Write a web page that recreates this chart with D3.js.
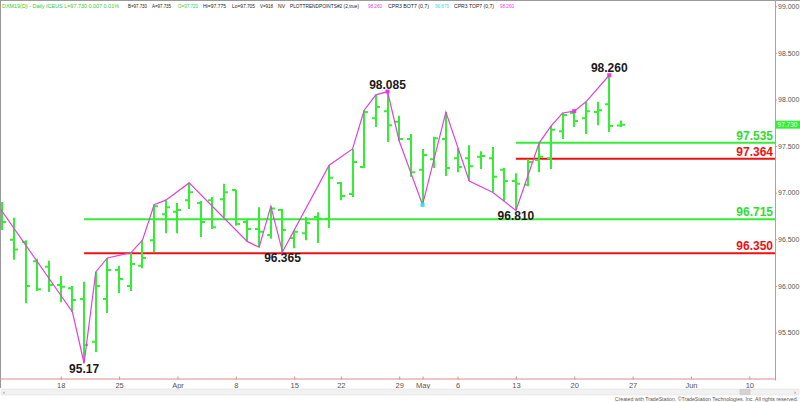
<!DOCTYPE html>
<html><head><meta charset="utf-8">
<script src="https://cdn.jsdelivr.net/npm/d3@7"></script>
<style>
html,body{margin:0;padding:0;background:#fff;overflow:hidden}
svg{display:block;font-family:"Liberation Sans",Arial,sans-serif}
</style></head><body>
<svg id="c" width="800" height="402"></svg>
<script>
// ---------- data ----------
const sessions = [
 "2019-03-11","2019-03-12","2019-03-13","2019-03-14","2019-03-15",
 "2019-03-18","2019-03-19","2019-03-20","2019-03-21","2019-03-22",
 "2019-03-25","2019-03-26","2019-03-27","2019-03-28","2019-03-29",
 "2019-04-01","2019-04-02","2019-04-03","2019-04-04","2019-04-05",
 "2019-04-08","2019-04-09","2019-04-10","2019-04-11","2019-04-12",
 "2019-04-15","2019-04-16","2019-04-17","2019-04-18",
 "2019-04-22","2019-04-23","2019-04-24","2019-04-25","2019-04-26",
 "2019-04-29","2019-04-30","2019-05-01","2019-05-02","2019-05-03",
 "2019-05-06","2019-05-07","2019-05-08","2019-05-09","2019-05-10",
 "2019-05-13","2019-05-14","2019-05-15","2019-05-16","2019-05-17",
 "2019-05-20","2019-05-21","2019-05-22","2019-05-23","2019-05-24",
 "2019-05-27","2019-05-28","2019-05-29","2019-05-30","2019-05-31",
 "2019-06-03","2019-06-04","2019-06-05","2019-06-06","2019-06-07",
 "2019-06-10","2019-06-11","2019-06-12"
];
const opens  = [96.815,96.495,96.47,96.265,96.205,96.01,95.975,95.86,95.40,95.86,
                96.17,96.00,96.215,96.49,96.77,96.795,96.92,96.89,96.92,96.93,
                97.03,96.685,96.61,96.545,96.815,96.515,96.565,96.74,96.72,97.105,
                96.985,97.275,97.80,97.875,97.76,97.575,97.245,97.36,97.575,97.37,
                97.37,97.385,97.37,97.245,97.125,97.085,97.35,97.37,97.66,97.855,
                97.80,97.865,97.95,97.72];
const highs  = [96.90,96.73,96.49,96.29,96.27,96.105,96.00,96.045,96.15,96.30,
                96.215,96.355,96.49,96.87,96.92,96.89,97.105,96.91,96.955,97.095,
                97.03,96.72,96.845,96.855,96.825,96.60,96.74,96.79,97.295,97.115,
                97.47,97.885,98.05,98.085,97.825,97.63,97.47,97.60,97.865,97.48,
                97.51,97.445,97.49,97.265,97.21,97.36,97.535,97.715,97.855,97.875,
                97.975,97.975,98.26,97.775];
const lows   = [96.60,96.28,95.815,95.945,95.935,95.825,95.72,95.17,95.29,95.71,
                95.925,95.945,96.19,96.365,96.565,96.565,96.825,96.525,96.61,96.73,
                96.645,96.475,96.415,96.505,96.365,96.405,96.49,96.46,96.62,96.92,
                96.955,97.265,97.705,97.545,97.555,97.17,96.87,97.265,97.18,97.22,
                97.125,97.255,97.005,96.91,96.81,97.07,97.22,97.255,97.575,97.705,
                97.63,97.725,97.65,97.705];
const closes = [96.685,96.39,96.00,95.965,96.01,95.99,95.85,95.365,96.00,96.17,
                96.075,96.235,96.30,96.855,96.845,96.815,97.005,96.685,96.63,97.005,
                96.665,96.61,96.58,96.83,96.60,96.58,96.675,96.72,97.16,96.965,
                97.33,97.865,97.92,97.725,97.575,97.22,97.405,97.585,97.265,97.275,
                97.285,97.395,97.17,97.125,97.095,97.33,97.385,97.675,97.835,97.77,
                97.875,97.885,97.715,97.73];

// zigzag (PLOTTRENDPOINTS) vertices: session index, price
const trendIdx   = [-1, 6, 7, 8, 9, 11, 12, 13, 14, 16, 21, 22, 23, 24, 28, 30, 31, 32, 33, 34, 36, 38, 40, 42, 44, 46, 47, 48, 49, 50, 52];
const trendPrice = [96.975,95.72,95.17,96.15,96.30,96.355,96.49,96.87,96.92,97.105,96.475,96.415,96.855,96.365,97.295,97.47,97.885,98.05,98.085,97.555,96.87,97.865,97.125,97.005,96.81,97.535,97.715,97.855,97.875,97.975,98.26];

// swing labels
const swingIdx   = [7, 24, 33, 44, 52];
const swingText  = ["95.17","96.365","98.085","96.810","98.260"];
const swingPrice = [95.17, 96.365, 98.085, 96.81, 98.26];
const swingSide  = ["low","low","high","low","high"];

// marker dots
const dotIdx   = [33, 49, 52, 36];
const dotPrice = [98.085, 97.875, 98.26, 96.87];
const dotColor = ["#ee33ee","#ee33ee","#ee33ee","#33e0f0"];

// horizontal levels
const levelValue = [97.535, 97.364, 96.715, 96.350];
const levelStart = [44, 44, 7, 7];
const levelKind  = ["green","red","green","red"];

// axes
const tickDates  = ["2019-03-18","2019-03-25","2019-04-01","2019-04-08","2019-04-15","2019-04-22","2019-04-29","2019-05-01","2019-05-06","2019-05-13","2019-05-20","2019-05-27","2019-06-03","2019-06-10"];
const tickLabels = ["18","25","Apr","8","15","22","29","May","6","13","20","27","Jun","10"];
const priceTicks = [95.5, 96.0, 96.5, 97.0, 97.5, 98.0, 98.5, 99.0];
const lastPrice  = 97.730;

// header segments
const headerText  = ["DXM19(D) - Daily ICEUS L=97.730 0.007 0.01%","B=97.730","A=97.735","O=97.720","Hi=97.775","Lo=97.705","V=918","NV","PLOTTRENDPOINTS#2 (2,true)","98.260","CPR3 BOT7 (0,7)","96.870","CPR3 TOP7 (0,7)","98.260"];
const headerColor = ["#33cc33","#222","#222","#33cc33","#222","#222","#222","#222","#222","#ee33ee","#222","#33dddd","#222","#ee33ee"];
const headerX     = [2,128,152,178,203,232,260,278,290,368,388,435,454,500];
const headerW     = [117,19,19,20,23,23,13,7,69,14,41,14,40,14];

// ---------- drawing ----------
const GREEN = "#33ee33", LGREEN = "#2fdd2f", RED = "#ee1111", MAG = "#dd44dd", AXIS = "#e08a8a";
const svg = d3.select("#c");
const W = 775, H = 378.5;
const x = d3.scaleLinear().domain([-0.2057, 66.2]).range([0, W]);
const y = d3.scaleLinear().domain([95, 99]).range([379.1, 6.3]);

svg.append("defs").append("clipPath").attr("id","plot")
  .append("rect").attr("x",1).attr("y",1).attr("width",W-1).attr("height",H-1);

// frame
svg.append("line").attr("x1",0).attr("x2",800).attr("y1",0.5).attr("y2",0.5).attr("stroke","#999");
svg.append("line").attr("x1",0.5).attr("x2",0.5).attr("y1",0).attr("y2",388).attr("stroke","#999");

// header
const hdr = svg.append("g");
headerText.forEach((t,i)=>{
  hdr.append("text").attr("x",headerX[i]).attr("y",8).attr("font-size",5)
    .attr("fill",headerColor[i]).attr("textLength",headerW[i]).attr("lengthAdjust","spacingAndGlyphs")
    .text(t);
});

const plot = svg.append("g").attr("clip-path","url(#plot)");

// levels
levelValue.forEach((v,i)=>{
  plot.append("line").attr("x1",x(levelStart[i])).attr("x2",W)
    .attr("y1",y(v)).attr("y2",y(v))
    .attr("stroke", levelKind[i]==="green"?GREEN:RED).attr("stroke-width",2);
  svg.append("text").attr("x",773).attr("y",y(v)-3).attr("text-anchor","end")
    .attr("font-size",12).attr("font-weight","bold")
    .attr("fill", levelKind[i]==="green"?LGREEN:RED).text(v.toFixed(3));
});

// bars
const bars = plot.append("g").attr("stroke",GREEN).attr("stroke-width",2);
opens.forEach((o,i)=>{
  const cx = Math.round(x(i));
  bars.append("line").attr("x1",cx).attr("x2",cx).attr("y1",y(highs[i])).attr("y2",y(lows[i]));
  bars.append("line").attr("x1",cx-4).attr("x2",cx).attr("y1",y(o)).attr("y2",y(o));
  bars.append("line").attr("x1",cx).attr("x2",cx+4).attr("y1",y(closes[i])).attr("y2",y(closes[i]));
});

// zigzag
const zz = d3.line().x(d=>x(d[0])).y(d=>y(d[1]));
plot.append("path").attr("d", zz(trendIdx.map((d,i)=>[d,trendPrice[i]])))
  .attr("fill","none").attr("stroke",MAG).attr("stroke-width",1.2);

// dots
dotIdx.forEach((d,i)=>{
  plot.append("rect").attr("x",x(d)-2).attr("y",y(dotPrice[i])-2).attr("width",4).attr("height",4)
    .attr("fill",dotColor[i]);
});

// swing labels
swingIdx.forEach((d,i)=>{
  const yy = swingSide[i]==="high" ? y(swingPrice[i]) - 3 : y(swingPrice[i]) + 10;
  svg.append("text").attr("x",x(d)).attr("y",yy).attr("text-anchor","middle")
    .attr("font-size",12).attr("font-weight","bold").attr("fill","#1a1a1a").text(swingText[i]);
});

// right axis
const ra = svg.append("g").attr("transform",`translate(${W},0)`)
  .call(d3.axisRight(y).tickValues(priceTicks).tickFormat(d3.format(".3f")).tickSize(2).tickPadding(1));
ra.select(".domain").attr("stroke",AXIS).attr("d",`M0.5,0V${H+2}`);
ra.selectAll(".tick line").attr("stroke",AXIS);
ra.selectAll(".tick text").attr("font-size",7).attr("fill","#555").attr("font-family","Liberation Sans, Arial, sans-serif");

// bottom axis
const tickIdx = tickDates.map(d=>sessions.indexOf(d));
const ba = svg.append("g").attr("transform",`translate(0,${H})`)
  .call(d3.axisBottom(x).tickValues(tickIdx).tickFormat((d,i)=>tickLabels[i]).tickSize(2).tickPadding(2));
ba.select(".domain").attr("stroke",AXIS).attr("d",`M0,0.5H${W}`);
ba.selectAll(".tick line").attr("stroke",AXIS).attr("y1",-2).attr("y2",1);
ba.selectAll(".tick text").attr("font-size",7.5).attr("fill","#555").attr("font-family","Liberation Sans, Arial, sans-serif");

// last price box
const lp = svg.append("g");
lp.append("rect").attr("x",W+1).attr("y",y(lastPrice)-4).attr("width",24).attr("height",8).attr("fill",GREEN);
lp.append("text").attr("x",W+12.5).attr("y",y(lastPrice)+2.5).attr("text-anchor","middle")
  .attr("font-size",6.5).attr("fill","#eaffea").text(lastPrice.toFixed(3));

// scrollbar
svg.append("rect").attr("x",1).attr("y",389).attr("width",798).attr("height",6).attr("fill","#f1f1f1").attr("stroke","#e2e2e2").attr("stroke-width",0.6);
svg.append("rect").attr("x",740).attr("y",389.5).attr("width",10).attr("height",5).attr("fill","#d4d4d4").attr("stroke","#bbb").attr("stroke-width",0.5);
svg.append("text").attr("x",3).attr("y",394).attr("font-size",6).attr("fill","#777").text("‹");
svg.append("text").attr("x",794).attr("y",394).attr("font-size",6).attr("fill","#777").text("›");

// credit
svg.append("text").attr("x",798).attr("y",400.5).attr("text-anchor","end").attr("font-size",5.2).attr("fill","#555")
  .text("Created with TradeStation. ©TradeStation Technologies, Inc. All rights reserved.");
</script>
</body></html>
